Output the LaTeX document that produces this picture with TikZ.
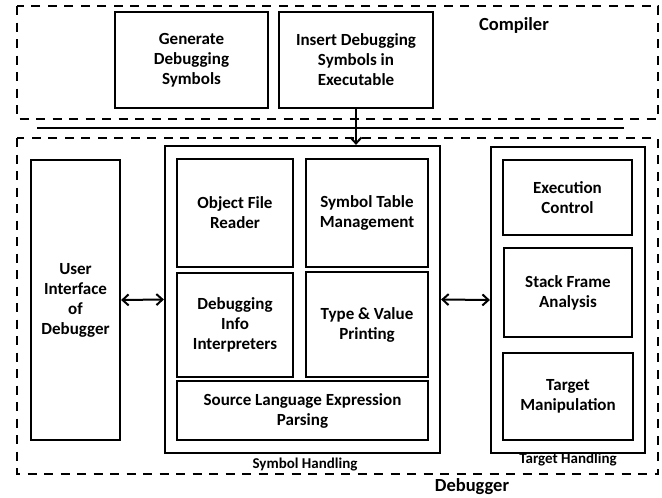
\documentclass[tikz,border=0pt]{standalone}
\usepackage{fontspec}
\setmainfont{Carlito}
\usetikzlibrary{arrows.meta}
\begin{document}
\begin{tikzpicture}[x=1pt,y=-1pt,
  box/.style={draw,line width=2.2pt,align=center,inner sep=0pt,
    font=\fontsize{17}{20}\selectfont\bfseries},
  region/.style={line width=2.2pt,dash pattern=on 9pt off 7.5pt},
  title/.style={font=\fontsize{18.5}{22}\selectfont\bfseries},
  caption/.style={font=\fontsize{15}{18}\selectfont\bfseries},
  link/.style={line width=2pt,{Straight Barb[length=6pt,width=11pt]}-{Straight Barb[length=6pt,width=11pt]}},
  feed/.style={line width=2pt,-{Straight Barb[length=6pt,width=11pt]}}
]
\useasboundingbox (0,0) rectangle (662,498);

% compiler and debugger regions
\draw[region] (17,6) rectangle (658,119);
\draw[region] (17,138) rectangle (658,474);
\node[title] (complbl) at (514,25) {Compiler};
\node[title] (dbglbl) at (472,487) {Debugger};

% separator between the two regions
\coordinate (sepl) at (37,128);
\coordinate (sepr) at (624,128);
\draw[line width=2.5pt] (sepl) -- (sepr);

% compiler stages
\node[box,minimum width=153pt,minimum height=96pt] (gen) at (191.5,60)
  {Generate\\Debugging\\Symbols};
\node[box,minimum width=154pt,minimum height=96pt] (ins) at (356,60)
  {Insert Debugging\\Symbols in\\Executable};

% user interface
\node[box,minimum width=89pt,minimum height=280pt] (ui) at (75.5,300)
  {User\\Interface\\of\\Debugger};

% symbol handling group
\node[box,minimum width=275pt,minimum height=307pt] (sym) at (302.5,299.5) {};
\node[box,minimum width=116pt,minimum height=108pt] (obj) at (235,213)
  {Object File\\Reader};
\node[box,minimum width=122pt,minimum height=108pt] (symtab) at (367,213)
  {Symbol Table\\Management};
\node[box,minimum width=116pt,minimum height=104pt] (dinfo) at (235,325)
  {Debugging\\Info\\Interpreters};
\node[box,minimum width=122pt,minimum height=105pt] (typev) at (367,324.5)
  {Type \& Value\\Printing};
\node[box,minimum width=251pt,minimum height=59pt] (srcp) at (302.5,410.5)
  {Source Language Expression\\Parsing};
\node[caption] (symlbl) at (305,465) {Symbol Handling};

% target handling group
\node[box,minimum width=154pt,minimum height=306pt] (tgt) at (568,300) {};
\node[box,minimum width=129pt,minimum height=75pt] (exec) at (567.5,197.5)
  {Execution\\Control};
\node[box,minimum width=128pt,minimum height=89pt] (stack) at (568,292.5)
  {Stack Frame\\Analysis};
\node[box,minimum width=130pt,minimum height=87pt] (manip) at (568,396.5)
  {Target\\Manipulation};
\node[caption] (tgtlbl) at (568,460) {Target Handling};

% connectors
\draw[feed] (ins.south) -- (ins.south |- sym.north);
\draw[link] (ui.east) -- (sym.west);
\draw[link] (sym.east) -- (tgt.west);
\end{tikzpicture}
\end{document}
